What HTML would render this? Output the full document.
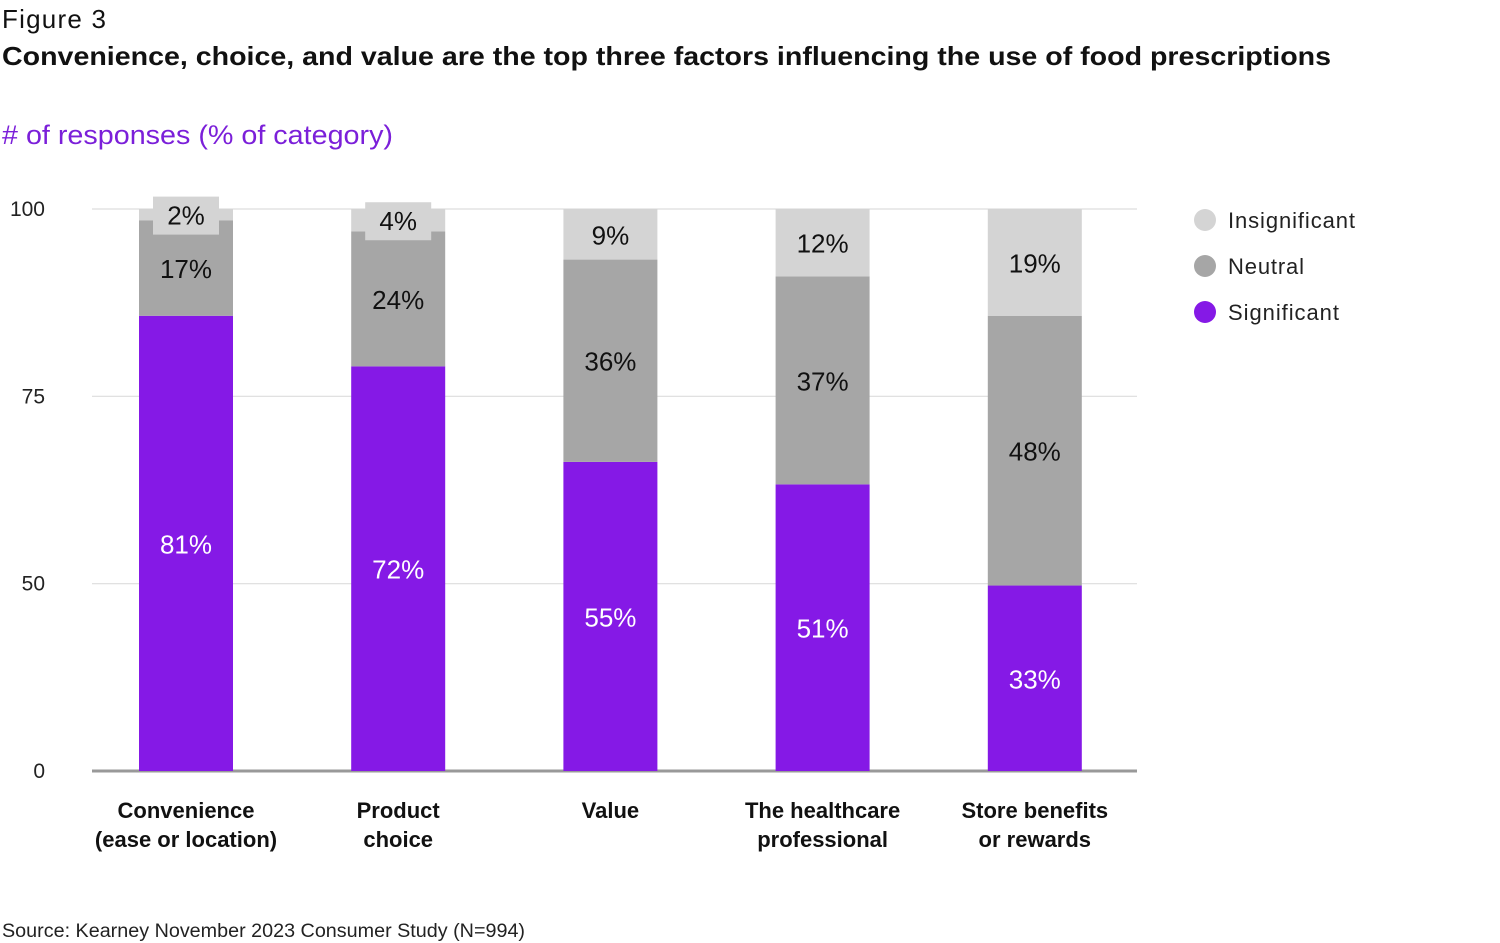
<!DOCTYPE html>
<html><head><meta charset="utf-8"><style>
body{margin:0;background:#fff;font-family:"Liberation Sans",sans-serif;}
svg{display:block}
</style></head><body>
<svg id="chart" width="1500" height="943" xmlns="http://www.w3.org/2000/svg">
<text x="2" y="28" font-size="26" fill="#111" textLength="104">Figure 3</text>
<text x="2" y="65" font-size="26" font-weight="bold" fill="#111" textLength="1329" lengthAdjust="spacingAndGlyphs">Convenience, choice, and value are the top three factors influencing the use of food prescriptions</text>
<text x="2" y="144" font-size="27" fill="#7b1fd9" textLength="391" lengthAdjust="spacingAndGlyphs"># of responses (% of category)</text>
<text x="2" y="937" font-size="19" fill="#222" textLength="523" lengthAdjust="spacingAndGlyphs">Source: Kearney November 2023 Consumer Study (N=994)</text>
<g id="grid"></g><g id="bars"></g><g id="labels"></g>
<g>
<circle cx="1205" cy="220" r="11" fill="#d4d4d4"/>
<text x="1228" y="228" font-size="22" fill="#222" textLength="127">Insignificant</text>
<circle cx="1205" cy="266" r="11" fill="#a6a6a6"/>
<text x="1228" y="274" font-size="22" fill="#222" textLength="76">Neutral</text>
<circle cx="1205" cy="312" r="11" fill="#8519e6"/>
<text x="1228" y="320" font-size="22" fill="#222" textLength="111">Significant</text>
</g>
</svg>
<script>
const categories=[["Convenience","(ease or location)"],["Product","choice"],["Value",""],["The healthcare","professional"],["Store benefits","or rewards"]];
const significant=[81,72,55,51,33];
const neutral=[17,24,36,37,48];
const insignificant=[2,4,9,12,19];
const tickLabels=["0","50","75","100"];
const NS="http://www.w3.org/2000/svg";
const y0=771,y100=209,x0=92,x1=1137;
const y=v=>y0-(y0-y100)*v/100;
const yTick=i=>y0-(y0-y100)*i/(tickLabels.length-1);
const cx=i=>186+i*212.2;
const bw=94;
function el(t,a,p){const e=document.createElementNS(NS,t);for(const k in a)e.setAttribute(k,a[k]);document.getElementById(p).appendChild(e);return e;}
tickLabels.forEach((t,i)=>{
 const yy=yTick(i);
 const l=el('line',{x1:x0,x2:x1,y1:yy,y2:yy,stroke:i===0?'#999':'#ddd','stroke-width':i===0?3:1.2},'grid');
 
 
 const tx=el('text',{x:45,y:yy+7,'font-size':21,'text-anchor':'end',fill:'#222'},'grid');
 tx.textContent=t;
 
 
});
const series=[[significant,'#8519e6','#fff','significant'],[neutral,'#a6a6a6','#111','neutral'],[insignificant,'#d4d4d4','#111','insignificant']];
categories.forEach((c,i)=>{
 let base=0;
 series.forEach(([arr,col,tc,nm])=>{
  const v=arr[i];let top=base+v;if(nm==='insignificant')top=100;
  const r=el('rect',{x:cx(i)-bw/2,y:y(top),width:bw,height:y(base)-y(top),fill:col},'bars');
  
  
  const mid=(y(base)+y(top))/2;
  const h=y(base)-y(top);
  if(h<30){
   const b=el('rect',{x:cx(i)-33,y:mid-18,width:66,height:38,fill:col},'labels');
   
   
  }
  const t=el('text',{x:cx(i),y:mid+10,'font-size':26,'text-anchor':'middle',fill:tc},'labels');
  t.textContent=v+'%';
  
  
  base=top;
 });
 c.forEach((line,j)=>{
  if(!line)return;
  const t=el('text',{x:cx(i),y:818+j*29,'font-size':22,'font-weight':'bold','text-anchor':'middle',fill:'#111'},'labels');
  t.textContent=line;
  
  
 });
});
</script>
</body></html>
